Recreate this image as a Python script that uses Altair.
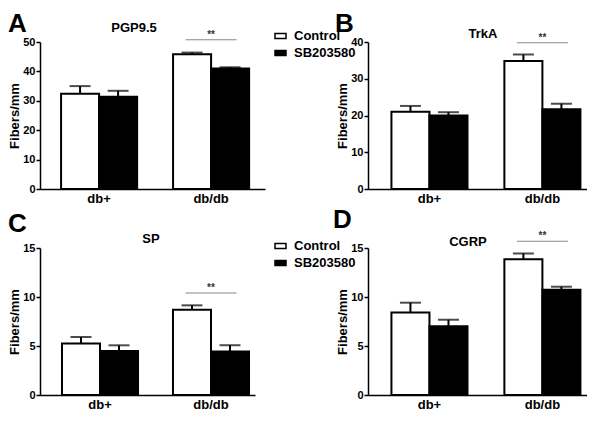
import altair as alt
import pandas as pd

# ---------------- data ----------------
groups = ["db+", "db/db"]
treatments = ["Control", "SB203580"]

pgp_mean = [32.4, 31.4, 45.8, 41.0]
pgp_err = [2.6, 2.0, 0.6, 0.4]
trka_mean = [21.0, 20.0, 34.8, 21.7]
trka_err = [1.6, 0.9, 1.8, 1.5]
sp_mean = [5.25, 4.5, 8.7, 4.43]
sp_err = [0.67, 0.57, 0.45, 0.65]
cgrp_mean = [8.42, 7.02, 13.84, 10.75]
cgrp_err = [1.0, 0.66, 0.6, 0.3]

panel_letters = ["A", "B", "C", "D"]
panel_titles = ["PGP9.5", "TrkA", "SP", "CGRP"]
y_max = [50, 40, 15, 15]
y_ticks = [[0, 10, 20, 30, 40, 50], [0, 10, 20, 30, 40], [0, 5, 10, 15], [0, 5, 10, 15]]
sig_level = [50.8, 39.8, 10.4, 15.7]
sig_label = "**"
y_title = "Fibers/mm"

FONT = "Liberation Sans"
H = 147


def panel(i, means, errs, width, xs, letter_xy, title_xy, legend_xy):
    df = pd.DataFrame({
        "group": [g for g in groups for _ in treatments],
        "treatment": treatments * 2,
        "mean": means,
        "hi": [m + e for m, e in zip(means, errs)],
    })
    xscale = alt.Scale(domain=groups, paddingInner=xs[0], paddingOuter=xs[1], align=xs[2])
    yscale = alt.Scale(domain=[0, y_max[i]], nice=False)
    x_axis = alt.Axis(title=None, labelAngle=0, ticks=False, tickSize=0, labelFontSize=13,
                      labelPadding=3)
    y_axis = alt.Axis(title=y_title, values=y_ticks[i], tickSize=4, labelPadding=1,
                      labelFontSize=11, titleFontSize=13, titlePadding=1)
    x = alt.X("group:N", scale=xscale, sort=groups, axis=x_axis)
    xo = alt.XOffset("treatment:N", sort=treatments, scale=alt.Scale(domain=treatments))

    if legend_xy is not None:
        legend = alt.Legend(title=None, orient="none", legendX=legend_xy[0], legendY=legend_xy[1],
                            symbolType="M-1,-0.45L1,-0.45L1,0.45L-1,0.45Z", symbolSize=121,
                            symbolStrokeColor="black", symbolStrokeWidth=1.5,
                            labelFont=FONT, labelFontSize=13, labelFontWeight="bold",
                            labelColor="black", rowPadding=3, labelOffset=7, padding=0)
    else:
        legend = None

    base = alt.Chart(df)
    bars = base.mark_bar(stroke="black", strokeWidth=2).encode(
        x=x, xOffset=xo,
        y=alt.Y("mean:Q", scale=yscale, axis=y_axis),
        fill=alt.Fill("treatment:N", sort=treatments,
                      scale=alt.Scale(domain=treatments, range=["white", "black"]),
                      legend=legend),
    )
    err = base.mark_rule(color="black", strokeWidth=2).encode(
        x=x, xOffset=xo,
        y=alt.Y("mean:Q", scale=yscale, axis=y_axis), y2="hi:Q",
    )
    cap = base.mark_tick(color="black", thickness=2, size=21, orient="horizontal").encode(
        x=x, xOffset=xo,
        y=alt.Y("hi:Q", scale=yscale, axis=y_axis),
    )

    sig_df = pd.DataFrame({"group": [groups[1]], "level": [sig_level[i]], "label": [sig_label]})
    sig_line = alt.Chart(sig_df).mark_tick(color="#555555", thickness=1, size=51,
                                           orient="horizontal").encode(
        x=x, y=alt.Y("level:Q", scale=yscale, axis=y_axis),
    )
    sig_text = alt.Chart(sig_df).mark_text(font=FONT, fontSize=10, fontWeight="bold",
                                           color="#333333", baseline="alphabetic",
                                           dy=-2).encode(
        x=x, y=alt.Y("level:Q", scale=yscale, axis=y_axis), text="label:N",
    )

    ttl_df = pd.DataFrame({"t": [panel_titles[i]]})
    ttl = alt.Chart(ttl_df).mark_text(font=FONT, fontSize=13, fontWeight="bold", color="black",
                                      align="center", baseline="alphabetic").encode(
        text="t:N", x=alt.value(title_xy[0]), y=alt.value(title_xy[1]),
    )
    let_df = pd.DataFrame({"t": [panel_letters[i]]})
    let = alt.Chart(let_df).mark_text(font=FONT, fontSize=26, fontWeight="bold", color="black",
                                      align="left", baseline="top").encode(
        text="t:N", x=alt.value(letter_xy[0]), y=alt.value(letter_xy[1]),
    )

    return alt.layer(bars, err, cap, sig_line, sig_text, ttl, let).properties(
        width=width, height=H)


pA = panel(0, pgp_mean, pgp_err, 225, (0.321, 0.165, 0.57), (-32, -31), (94, -10), (234, -12.5))
pB = panel(1, trka_mean, trka_err, 219, (0.327, 0.133, 0.78), (-33, -31), (115, -4), None)
pC = panel(2, sp_mean, sp_err, 215, (0.315, 0.126, 0.786), (-32, -37), (111, -5), (234, -8.5))
pD = panel(3, cgrp_mean, cgrp_err, 219, (0.327, 0.133, 0.78), (-35, -41), (100, -2), None)

chart = alt.concat(
    pA, pB, pC, pD, columns=2, spacing={"row": 59, "column": 103}, bounds="flush"
).resolve_legend(fill="independent").configure_view(stroke=None).configure_axis(
    domainColor="black", domainWidth=1.5, tickColor="black", tickWidth=1.5, grid=False,
    labelFont=FONT, titleFont=FONT, labelFontWeight="bold", titleFontWeight="bold",
    labelColor="black", titleColor="black",
).properties(padding={"top": 3, "left": 0, "right": 0, "bottom": 0}, background="white")

chart.save("out.html", embed_options={"renderer": "svg", "actions": False})
